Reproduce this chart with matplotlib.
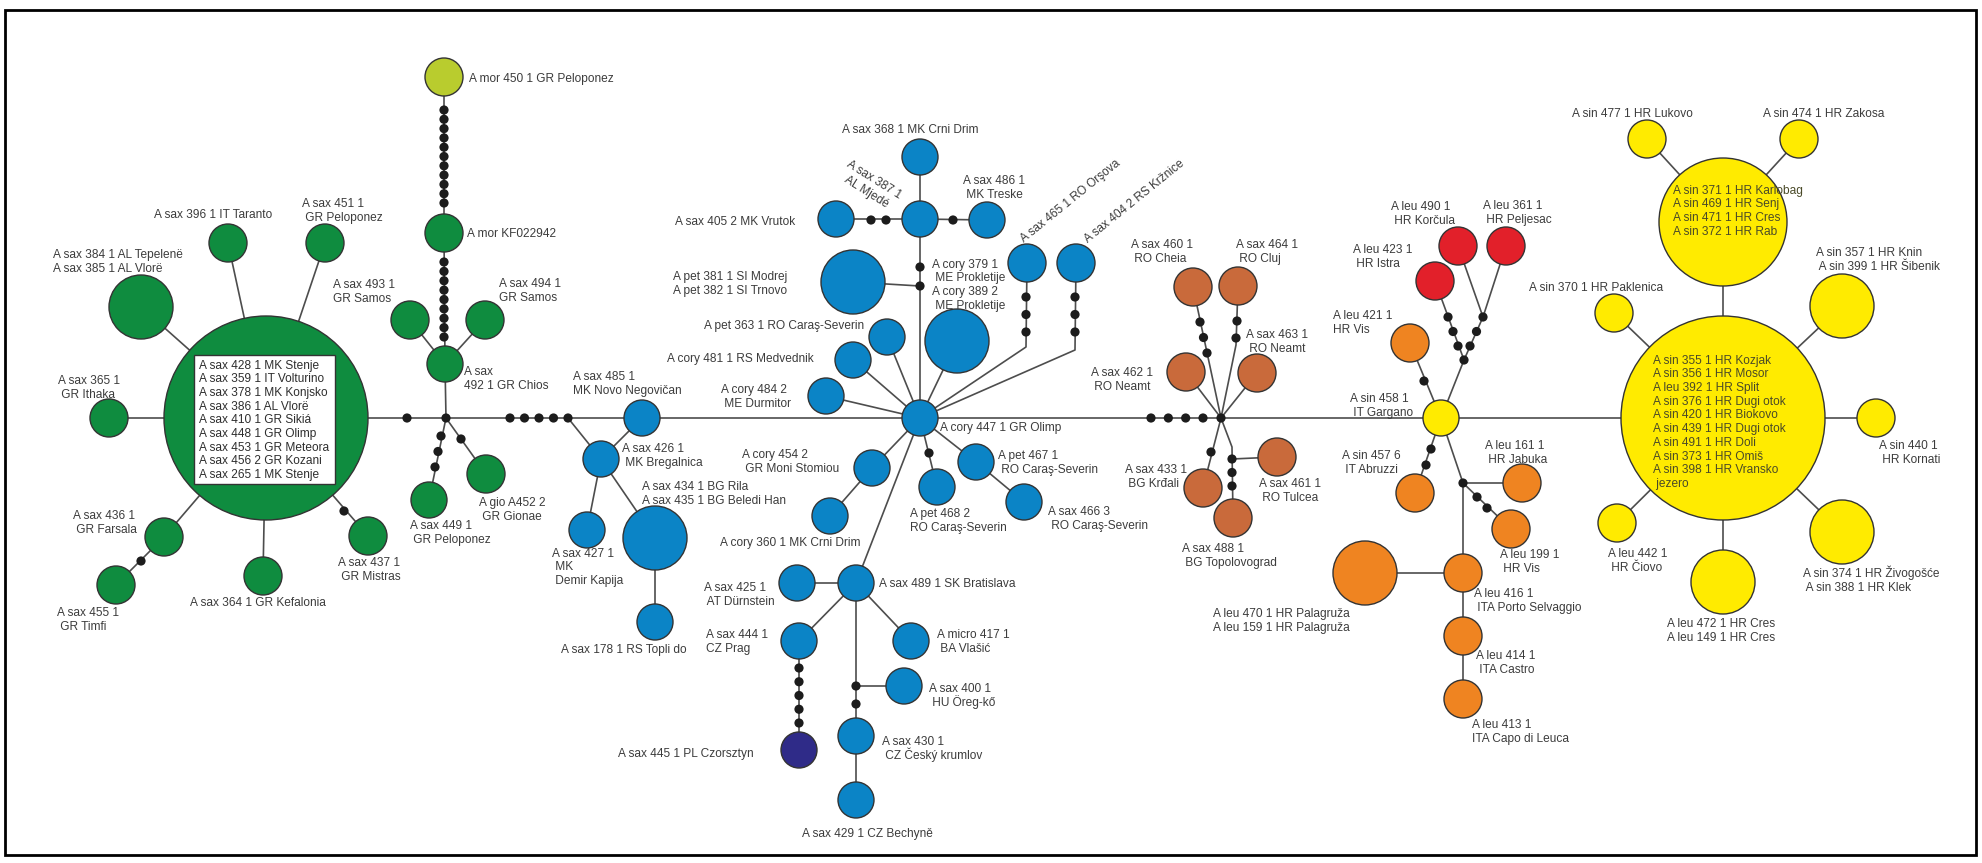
import numpy as np
import matplotlib.pyplot as plt
from matplotlib.patches import Circle, Rectangle

plt.rcParams['font.family'] = ['Liberation Sans', 'DejaVu Sans']

# haplogroup of each haplotype node
groups = {
    'sax_c': 'sax', 'sax384': 'sax', 'sax396': 'sax', 'sax451': 'sax', 'sax493': 'sax',
    'sax365': 'sax', 'sax436': 'sax', 'sax455': 'sax', 'sax364': 'sax', 'sax437': 'sax',
    'mor450': 'mor', 'morKF': 'sax', 'sax492': 'sax', 'sax494': 'sax', 'sax449': 'sax',
    'gio452': 'sax',
    'sax485': 'blue', 'sax426': 'blue', 'sax427': 'blue', 'sax434': 'blue', 'sax178': 'blue',
    'cory447': 'blue', 'sax368': 'blue', 'sax387': 'blue', 'sax405': 'blue', 'sax486': 'blue',
    'pet381': 'blue', 'cory379': 'blue', 'sax465': 'blue', 'sax404': 'blue', 'pet363': 'blue',
    'cory481': 'blue', 'cory484': 'blue', 'cory454': 'blue', 'cory360': 'blue', 'pet468': 'blue',
    'pet467': 'blue', 'sax466': 'blue', 'sax489': 'blue', 'sax425': 'blue', 'sax444': 'blue',
    'sax445': 'pl', 'micro417': 'blue', 'sax400': 'blue', 'sax430': 'blue', 'sax429': 'blue',
    'sax460': 'brown', 'sax464': 'brown', 'sax462': 'brown', 'sax463': 'brown',
    'sax433': 'brown', 'sax488': 'brown', 'sax461': 'brown',
    'sin458': 'yellow', 'leu421': 'orange', 'sin457': 'orange', 'leu161': 'orange',
    'leu199': 'orange', 'leu416': 'orange', 'leu470': 'orange', 'leu414': 'orange',
    'leu413': 'orange', 'leu423': 'red', 'leu490': 'red', 'leu361': 'red',
    'sin_c': 'yellow', 'sin371': 'yellow', 'sin477': 'yellow', 'sin474': 'yellow',
    'sin370': 'yellow', 'sin357': 'yellow', 'sin440': 'yellow', 'leu442': 'yellow',
    'leu472': 'yellow', 'sin374': 'yellow',
}

# sample labels
labels = {
    'sax384': 'A sax 384 1 AL Tepelenë\nA sax 385 1 AL Vlorë',
    'sax396': 'A sax 396 1 IT Taranto',
    'sax451': 'A sax 451 1\n GR Peloponez',
    'sax493': 'A sax 493 1\nGR Samos',
    'sax365': 'A sax 365 1\n GR Ithaka',
    'sax436': 'A sax 436 1\n GR Farsala',
    'sax455': 'A sax 455 1\n GR Timfi',
    'sax364': 'A sax 364 1 GR Kefalonia',
    'sax437': 'A sax 437 1\n GR Mistras',
    'mor450': 'A mor 450 1 GR Peloponez',
    'morKF': 'A mor KF022942',
    'sax494': 'A sax 494 1\nGR Samos',
    'sax492': 'A sax\n492 1 GR Chios',
    'sax449': 'A sax 449 1\n GR Peloponez',
    'gio452': 'A gio A452 2\n GR Gionae',
    'sax485': 'A sax 485 1\nMK Novo Negovičan',
    'sax426': 'A sax 426 1\n MK Bregalnica',
    'sax427': 'A sax 427 1\n MK\n Demir Kapija',
    'sax434': 'A sax 434 1 BG Rila\nA sax 435 1 BG Beledi Han',
    'sax178': 'A sax 178 1 RS Topli do',
    'sax368': 'A sax 368 1 MK Crni Drim',
    'sax387': 'A sax 387 1\nAL Mjedé',
    'sax486': 'A sax 486 1\n MK Treske',
    'sax405': 'A sax 405 2 MK Vrutok',
    'pet381': 'A pet 381 1 SI Modrej\nA pet 382 1 SI Trnovo',
    'cory379': 'A cory 379 1\n ME Prokletije\nA cory 389 2\n ME Prokletije',
    'sax465': 'A sax 465 1 RO Orşova',
    'sax404': 'A sax 404 2 RS Kržnice',
    'pet363': 'A pet 363 1 RO Caraş-Severin',
    'cory481': 'A cory 481 1 RS Medvednik',
    'cory484': 'A cory 484 2\n ME Durmitor',
    'cory447': 'A cory 447 1 GR Olimp',
    'cory454': 'A cory 454 2\n GR Moni Stomiou',
    'cory360': 'A cory 360 1 MK Crni Drim',
    'pet468': 'A pet 468 2\nRO Caraş-Severin',
    'pet467': 'A pet 467 1\n RO Caraş-Severin',
    'sax466': 'A sax 466 3\n RO Caraş-Severin',
    'sax489': 'A sax 489 1 SK Bratislava',
    'sax425': 'A sax 425 1\n AT Dürnstein',
    'sax444': 'A sax 444 1\nCZ Prag',
    'sax445': 'A sax 445 1 PL Czorsztyn',
    'micro417': 'A micro 417 1\n BA Vlašić',
    'sax400': 'A sax 400 1\n HU Öreg-kő',
    'sax430': 'A sax 430 1\n CZ Český krumlov',
    'sax429': 'A sax 429 1 CZ Bechyně',
    'sax460': 'A sax 460 1\n RO Cheia',
    'sax464': 'A sax 464 1\n RO Cluj',
    'sax462': 'A sax 462 1\n RO Neamt',
    'sax463': 'A sax 463 1\n RO Neamt',
    'sax433': 'A sax 433 1\n BG Krđali',
    'sax461': 'A sax 461 1\n RO Tulcea',
    'sax488': 'A sax 488 1\n BG Topolovograd',
    'sin458': 'A sin 458 1\n IT Gargano',
    'leu421': 'A leu 421 1\nHR Vis',
    'leu423': 'A leu 423 1\n HR Istra',
    'leu490': 'A leu 490 1\n HR Korčula',
    'leu361': 'A leu 361 1\n HR Peljesac',
    'sin457': 'A sin 457 6\n IT Abruzzi',
    'leu161': 'A leu 161 1\n HR Jabuka',
    'leu199': 'A leu 199 1\n HR Vis',
    'leu416': 'A leu 416 1\n ITA Porto Selvaggio',
    'leu414': 'A leu 414 1\n ITA Castro',
    'leu413': 'A leu 413 1\nITA Capo di Leuca',
    'leu470': 'A leu 470 1 HR Palagruža\nA leu 159 1 HR Palagruža',
    'sin477': 'A sin 477 1 HR Lukovo',
    'sin474': 'A sin 474 1 HR Zakosa',
    'sin370': 'A sin 370 1 HR Paklenica',
    'sin357': 'A sin 357 1 HR Knin\n A sin 399 1 HR Šibenik',
    'sin440': 'A sin 440 1\n HR Kornati',
    'leu442': 'A leu 442 1\n HR Čiovo',
    'leu472': 'A leu 472 1 HR Cres\nA leu 149 1 HR Cres',
    'sin374': 'A sin 374 1 HR Živogošće\n A sin 388 1 HR Klek',
}

# samples listed inside the three large haplotypes
inner_labels = {
    'sax_c': ['A sax 428 1 MK Stenje', 'A sax 359 1 IT Volturino', 'A sax 378 1 MK Konjsko',
              'A sax 386 1 AL Vlorë', 'A sax 410 1 GR Sikiá', 'A sax 448 1 GR Olimp',
              'A sax 453 1 GR Meteora', 'A sax 456 2 GR Kozani', 'A sax 265 1 MK Stenje'],
    'sin_c': ['A sin 355 1 HR Kozjak', 'A sin 356 1 HR Mosor', 'A leu 392 1 HR Split',
              'A sin 376 1 HR Dugi otok', 'A sin 420 1 HR Biokovo', 'A sin 439 1 HR Dugi otok',
              'A sin 491 1 HR Doli', 'A sin 373 1 HR Omiš', 'A sin 398 1 HR Vransko', ' jezero'],
    'sin371': ['A sin 371 1 HR Karlobag', 'A sin 469 1 HR Senj', 'A sin 471 1 HR Cres',
               'A sin 372 1 HR Rab'],
}

# network links (polylines through node ids / median vectors)
links = [
    ['sax_c', 'j1', 'sax485', 'cory447', 'j4', 'sin458', 'sin_c'],
    ['sax_c', 'sax384'], ['sax_c', 'sax396'], ['sax_c', 'sax451'], ['sax_c', 'sax365'],
    ['sax_c', 'sax436', 'sax455'], ['sax_c', 'sax364'], ['sax_c', 'sax437'],
    ['j1', 'sax492', 'morKF', 'mor450'], ['sax492', 'sax493'], ['sax492', 'sax494'],
    ['j1', 'sax449'], ['j1', 'gio452'],
    ['j2', 'sax426', 'sax485'], ['sax426', 'sax427'], ['sax426', 'sax434', 'sax178'],
    ['cory447', 'sax387', 'sax368'], ['sax387', 'sax405'], ['sax387', 'sax486'],
    ['pet381', 'j3'], ['cory447', 'cory379'],
    ['cory447', 'k465', 'sax465'], ['cory447', 'k404', 'sax404'],
    ['cory447', 'pet363'], ['cory447', 'cory481'], ['cory447', 'cory484'],
    ['cory447', 'cory454', 'cory360'], ['cory447', 'pet468'],
    ['cory447', 'pet467', 'sax466'], ['cory447', 'sax489'],
    ['sax489', 'sax425'], ['sax489', 'sax444', 'sax445'], ['sax489', 'micro417'],
    ['sax489', 'sax430', 'sax429'], ['j6', 'sax400'],
    ['j4', 'sax460'], ['j4', 'k464', 'sax464'], ['j4', 'sax462'], ['j4', 'sax463'],
    ['j4', 'sax433'], ['j4', 'k488', 'sax488'], ['j5', 'sax461'],
    ['sin458', 'leu421'], ['sin458', 'j7', 'leu423'], ['j7', 'j8', 'leu490'], ['j8', 'leu361'],
    ['sin458', 'sin457'], ['sin458', 'j9', 'leu416', 'leu414', 'leu413'],
    ['j9', 'leu161'], ['j9', 'leu199'], ['leu416', 'leu470'],
    ['sin_c', 'sin371', 'sin477'], ['sin371', 'sin474'], ['sin_c', 'sin370'],
    ['sin_c', 'sin357'], ['sin_c', 'sin440'], ['sin_c', 'leu442'], ['sin_c', 'leu472'],
    ['sin_c', 'sin374'],
]

# ---------------- layout (pixel positions of the drawing) ----------------
layout = {
    'sax_c': (266, 418, 102), 'sax384': (141, 307, 32), 'sax396': (228, 243, 19),
    'sax451': (325, 243, 19), 'sax493': (410, 320, 19), 'sax365': (109, 418, 19),
    'sax436': (164, 537, 19), 'sax455': (116, 585, 19), 'sax364': (263, 576, 19),
    'sax437': (368, 536, 19), 'mor450': (444, 77, 19), 'morKF': (444, 233, 19),
    'sax492': (445, 364, 18), 'sax494': (485, 320, 19), 'sax449': (429, 500, 18),
    'gio452': (486, 474, 19),
    'sax485': (642, 418, 18), 'sax426': (601, 459, 18), 'sax427': (587, 530, 18),
    'sax434': (655, 538, 32), 'sax178': (655, 622, 18),
    'cory447': (920, 418, 18), 'sax368': (920, 157, 18), 'sax387': (920, 219, 18),
    'sax405': (836, 219, 18), 'sax486': (987, 220, 18), 'pet381': (853, 282, 32),
    'cory379': (957, 341, 32), 'sax465': (1027, 263, 19), 'sax404': (1076, 263, 19),
    'pet363': (887, 337, 18), 'cory481': (853, 360, 18), 'cory484': (826, 396, 18),
    'cory454': (872, 468, 18), 'cory360': (830, 516, 18), 'pet468': (937, 487, 18),
    'pet467': (976, 462, 18), 'sax466': (1024, 502, 18), 'sax489': (856, 583, 18),
    'sax425': (797, 583, 18), 'sax444': (799, 641, 18), 'sax445': (799, 750, 18),
    'micro417': (911, 641, 18), 'sax400': (904, 686, 18), 'sax430': (856, 736, 18),
    'sax429': (856, 800, 18),
    'sax460': (1193, 287, 19), 'sax464': (1238, 286, 19), 'sax462': (1186, 372, 19),
    'sax463': (1257, 373, 19), 'sax433': (1203, 488, 19), 'sax488': (1233, 518, 19),
    'sax461': (1277, 457, 19),
    'sin458': (1441, 418, 18), 'leu421': (1410, 343, 19), 'sin457': (1415, 493, 19),
    'leu161': (1522, 483, 19), 'leu199': (1511, 529, 19), 'leu416': (1463, 573, 19),
    'leu470': (1365, 573, 32), 'leu414': (1463, 636, 19), 'leu413': (1463, 699, 19),
    'leu423': (1435, 281, 19), 'leu490': (1458, 246, 19), 'leu361': (1506, 246, 19),
    'sin_c': (1723, 418, 102), 'sin371': (1723, 222, 64), 'sin477': (1647, 139, 19),
    'sin474': (1799, 139, 19), 'sin370': (1614, 313, 19), 'sin357': (1842, 306, 32),
    'sin440': (1876, 418, 19), 'leu442': (1617, 523, 19), 'leu472': (1723, 582, 32),
    'sin374': (1842, 532, 32),
}
waypoints = {
    'j1': (446, 418), 'j2': (568, 418), 'j3': (920, 286), 'j4': (1221, 418),
    'j5': (1232, 459), 'j6': (856, 686), 'j7': (1464, 360), 'j8': (1483, 317),
    'j9': (1463, 483), 'k465': (1026, 347), 'k404': (1075, 350), 'k464': (1236, 345),
    'k488': (1232, 447),
}
# mutational steps drawn as black dots: (start, end, count)
steps = [
    ((407, 418), (407, 418), 1), ((446, 418), (446, 418), 1), ((510, 418), (568, 418), 5),
    ((444, 262), (444, 337), 9), ((444, 110), (444, 203), 11), ((441, 436), (435, 467), 3),
    ((461, 439), (461, 439), 1), ((141, 561), (141, 561), 1), ((344, 511), (344, 511), 1),
    ((871, 220), (886, 220), 2), ((953, 220), (953, 220), 1), ((920, 267), (920, 286), 2),
    ((1026, 297), (1026, 332), 3), ((1075, 297), (1075, 332), 3), ((929, 453), (929, 453), 1),
    ((799, 668), (799, 723), 5), ((856, 686), (856, 704), 2),
    ((1151, 418), (1203, 418), 4), ((1221, 418), (1221, 418), 1),
    ((1200, 322), (1207, 353), 3), ((1237, 321), (1236, 338), 2), ((1211, 452), (1211, 452), 1),
    ((1232, 459), (1232, 486), 3),
    ((1424, 381), (1424, 381), 1), ((1464, 360), (1464, 360), 1), ((1458, 346), (1448, 317), 3),
    ((1470, 346), (1483, 317), 3), ((1431, 449), (1426, 465), 2), ((1463, 483), (1463, 483), 1),
    ((1477, 497), (1487, 508), 2),
]
# label anchor: (x, y of block centre, ha, rotation)
label_pos = {
    'sax384': (53, 261, 'left', 0), 'sax396': (154, 214, 'left', 0),
    'sax451': (302, 210, 'left', 0), 'sax493': (333, 291, 'left', 0),
    'sax365': (58, 387, 'left', 0), 'sax436': (73, 522, 'left', 0),
    'sax455': (57, 619, 'left', 0), 'sax364': (190, 602, 'left', 0),
    'sax437': (338, 569, 'left', 0), 'mor450': (469, 78, 'left', 0),
    'morKF': (467, 233, 'left', 0), 'sax494': (499, 290, 'left', 0),
    'sax492': (464, 378, 'left', 0), 'sax449': (410, 532, 'left', 0),
    'gio452': (479, 509, 'left', 0),
    'sax485': (573, 383, 'left', 0), 'sax426': (622, 455, 'left', 0),
    'sax427': (552, 566, 'left', 0), 'sax434': (642, 493, 'left', 0),
    'sax178': (561, 649, 'left', 0), 'sax368': (842, 129, 'left', 0),
    'sax387': (871, 185, 'center', -32), 'sax486': (963, 187, 'left', 0),
    'sax405': (675, 221, 'left', 0), 'pet381': (673, 283, 'left', 0),
    'cory379': (932, 284, 'left', 0), 'sax465': (1070, 200, 'center', 39),
    'sax404': (1134, 200, 'center', 39), 'pet363': (704, 325, 'left', 0),
    'cory481': (667, 358, 'left', 0), 'cory484': (721, 396, 'left', 0),
    'cory447': (940, 427, 'left', 0), 'cory454': (742, 461, 'left', 0),
    'cory360': (720, 542, 'left', 0), 'pet468': (910, 520, 'left', 0),
    'pet467': (998, 462, 'left', 0), 'sax466': (1048, 518, 'left', 0),
    'sax489': (879, 583, 'left', 0), 'sax425': (704, 594, 'left', 0),
    'sax444': (706, 641, 'left', 0), 'sax445': (618, 753, 'left', 0),
    'micro417': (937, 641, 'left', 0), 'sax400': (929, 695, 'left', 0),
    'sax430': (882, 748, 'left', 0), 'sax429': (802, 833, 'left', 0),
    'sax460': (1131, 251, 'left', 0), 'sax464': (1236, 251, 'left', 0),
    'sax462': (1091, 379, 'left', 0), 'sax463': (1246, 341, 'left', 0),
    'sax433': (1125, 476, 'left', 0), 'sax461': (1259, 490, 'left', 0),
    'sax488': (1182, 555, 'left', 0),
    'sin458': (1350, 405, 'left', 0), 'leu421': (1333, 322, 'left', 0),
    'leu423': (1353, 256, 'left', 0), 'leu490': (1391, 213, 'left', 0),
    'leu361': (1483, 212, 'left', 0), 'sin457': (1342, 462, 'left', 0),
    'leu161': (1485, 452, 'left', 0), 'leu199': (1500, 561, 'left', 0),
    'leu416': (1474, 600, 'left', 0), 'leu414': (1476, 662, 'left', 0),
    'leu413': (1472, 731, 'left', 0), 'leu470': (1213, 620, 'left', 0),
    'sin477': (1572, 113, 'left', 0), 'sin474': (1763, 113, 'left', 0),
    'sin370': (1529, 287, 'left', 0), 'sin357': (1816, 259, 'left', 0),
    'sin440': (1879, 452, 'left', 0), 'leu442': (1608, 560, 'left', 0),
    'leu472': (1667, 630, 'left', 0), 'sin374': (1803, 580, 'left', 0),
}
inner_pos = {'sax_c': (199, 419), 'sin_c': (1653, 421), 'sin371': (1673, 210)}

colors = {'sax': '#0f8c3f', 'mor': '#b9cc2e', 'blue': '#0b84c6', 'pl': '#2f2b88',
          'brown': '#c96a3b', 'orange': '#ef8421', 'red': '#e2202a', 'yellow': '#ffeb00'}
TXT = '#3c3c3c'
FS = 8.6
LS = 13.7

fig = plt.figure(figsize=(19.83, 8.63), dpi=100)
ax = fig.add_axes([0, 0, 1, 1])
ax.set_xlim(0, 1983)
ax.set_ylim(863, 0)
ax.axis('off')


def point(key):
    if key in layout:
        return layout[key][:2]
    return waypoints[key]


def put(text, x, y, ha='left', rot=0, color=TXT):
    lines = text.split('\n')
    n = len(lines)
    t = np.radians(rot)
    nx, ny = np.sin(t), np.cos(t)
    for i, line in enumerate(lines):
        off = (i - (n - 1) / 2) * LS + 4.3
        ax.text(x + off * nx, y + off * ny, line, ha=ha, va='baseline', rotation=rot,
                rotation_mode='anchor', fontsize=FS, color=color, zorder=6)


for path in links:
    pts = np.array([point(k) for k in path])
    ax.plot(pts[:, 0], pts[:, 1], color='#4d4d4d', lw=1.2, zorder=1)

for key, grp in groups.items():
    x, y, r = layout[key]
    ax.add_patch(Circle((x, y), r, fc=colors[grp], ec='#333333', lw=1.0, zorder=3))

for (x0, y0), (x1, y1), n in steps:
    for f in np.linspace(0, 1, n):
        ax.add_patch(Circle((x0 + f * (x1 - x0), y0 + f * (y1 - y0)), 4.6,
                            fc='#1c1c1c', ec='none', zorder=4))

# white box with the sample list of the central green haplotype
ax.add_patch(Rectangle((194, 355), 141, 129, fc='white', ec='#333333', lw=1.0, zorder=5))

for key, text in labels.items():
    x, y, ha, rot = label_pos[key]
    put(text, x, y, ha, rot)

for key, lines in inner_labels.items():
    x, y = inner_pos[key]
    put('\n'.join(lines), x, y, color='#2e2e2e' if key == 'sax_c' else '#4a4a28')

ax.add_patch(Rectangle((5, 10), 1971, 845, fc='none', ec='black', lw=2.0, zorder=7))

fig.savefig('out.png', dpi=100)
